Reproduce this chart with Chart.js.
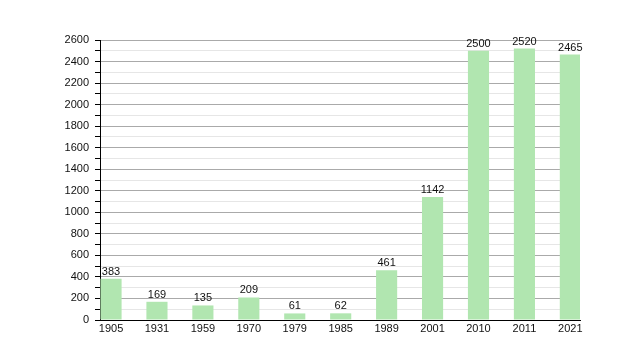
<!DOCTYPE html>
<html><head><meta charset="utf-8">
<script src="https://cdn.jsdelivr.net/npm/chart.js@4/dist/chart.umd.min.js"></script>
<style>html,body{margin:0;padding:0;background:#fff}#wrap{width:620px;height:360px}</style>
</head><body><div id="wrap"><canvas id="c" width="620" height="360"></canvas></div>
<script>
const years = ["1905","1931","1959","1970","1979","1985","1989","2001","2010","2011","2021"];
const population = [383,169,135,209,61,62,461,1142,2500,2520,2465];
const yMax = 2600;
const yStep = 100;
const yLabelStep = 200;

const valueLabels = {
  id: 'valueLabels',
  afterDatasetsDraw(chart) {
    const ctx = chart.ctx;
    const meta = chart.getDatasetMeta(0);
    ctx.save();
    ctx.font = '11px "Liberation Sans", Arial, sans-serif';
    ctx.fillStyle = '#111';
    ctx.textAlign = 'center';
    ctx.textBaseline = 'alphabetic';
    meta.data.forEach((bar, i) => {
      ctx.fillText(String(population[i]), bar.x, bar.y - 4);
    });
    ctx.restore();
  }
};

new Chart(document.getElementById('c'), {
  type: 'bar',
  data: {
    datasets: [{
      data: population.map((v, i) => ({x: i, y: v})),
      backgroundColor: '#b1e6b0',
      borderWidth: 0,
      barPercentage: 0.46,
      categoryPercentage: 1
    }]
  },
  options: {
    responsive: false,
    animation: false,
    devicePixelRatio: 1,
    layout: {padding: {left: 0, right: 40, top: 40, bottom: 0}},
    plugins: {legend: {display: false}, tooltip: {enabled: false}},
    scales: {
      x: {
        type: 'linear',
        offset: false,
        min: -0.24,
        max: 10.21,
        afterBuildTicks(scale) { scale.ticks = years.map((y, i) => ({value: i})); },
        afterFit(scale) { scale.height = 40; },
        ticks: {
          callback: (v) => years[v] ?? '',
          color: '#111',
          font: {family: '"Liberation Sans", Arial, sans-serif', size: 11},
          padding: 2,
          maxRotation: 0,
          autoSkip: false
        },
        grid: {display: false, drawTicks: false, offset: false},
        border: {display: true, color: '#000', width: 1}
      },
      y: {
        min: 0,
        max: yMax,
        afterFit(scale) { scale.width = 100; },
        ticks: {
          stepSize: yStep,
          autoSkip: false,
          callback: (v) => (v % yLabelStep === 0 ? String(v) : ''),
          color: '#111',
          font: {family: '"Liberation Sans", Arial, sans-serif', size: 11},
          padding: 6
        },
        grid: {
          color: (c) => (c.tick && c.tick.value % yLabelStep === 0 ? '#aaaaaa' : '#e6e6e6'),
          tickColor: '#000',
          tickLength: 5,
          lineWidth: 1
        },
        border: {display: true, color: '#000', width: 1}
      }
    }
  },
  plugins: [valueLabels]
});
</script></body></html>
